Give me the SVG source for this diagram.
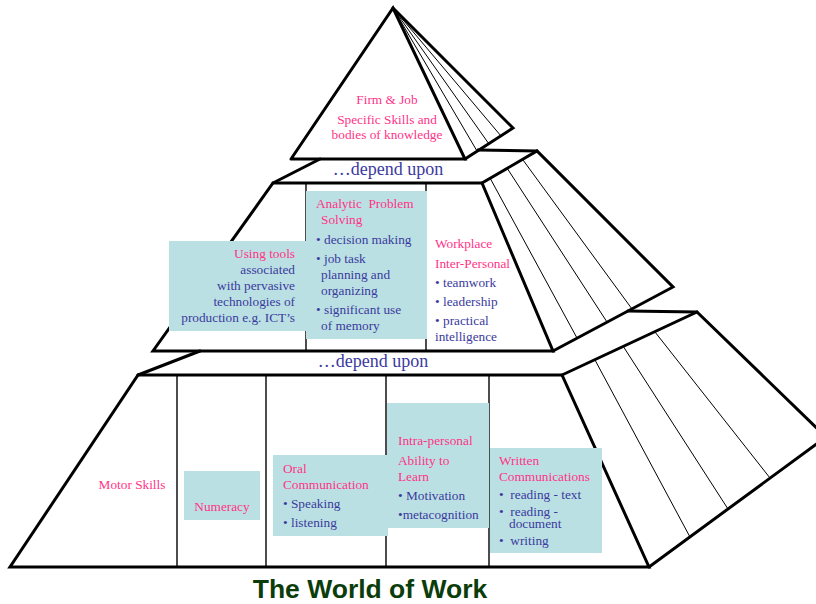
<svg xmlns="http://www.w3.org/2000/svg" width="816" height="604" viewBox="0 0 816 604">
  <style>
    .bold { fill: none; stroke: #000; stroke-width: 3; stroke-linejoin: miter; stroke-linecap: round; }
    .thin { fill: none; stroke: #000; stroke-width: 1; }
    .div { fill: none; stroke: #000; stroke-width: 1.4; }
    .box { fill: #bbe0e3; stroke: none; }
    text { font-family: "Liberation Serif", "Times New Roman", serif; font-size: 13.3px; }
    .pk { fill: #ff3388; }
    .bl { fill: #3a3a9e; }
    .dep { font-size: 18px; fill: #3a3a9e; text-anchor: middle; }
    .title { font-family: "Liberation Sans", Arial, sans-serif; font-weight: bold; font-size: 26.5px; fill: #0b3d0b; text-anchor: middle; }
  </style>

  <!-- pyramid outline: three tiers with side faces -->
  <g id="pyramid">
    <!-- top tier -->
    <polyline class="bold" points="291,159 393,8 465,159 291,159"/>
    <polyline class="bold" points="393,8 513,128 465,159"/>
    <line class="thin" x1="393" y1="8" x2="477" y2="151"/>
    <line class="thin" x1="393" y1="8" x2="489" y2="144"/>
    <line class="thin" x1="393" y1="8" x2="501" y2="136"/>

    <!-- band between top and middle tiers -->
    <line class="bold" x1="320" y1="159" x2="273" y2="183"/>
    <line class="bold" x1="478" y1="150" x2="537" y2="151"/>

    <!-- middle tier front -->
    <polygon class="bold" points="273,183 482,183 553,351 153,351"/>
    <line class="div" x1="306" y1="183" x2="306" y2="351"/>
    <line class="div" x1="426" y1="183" x2="426" y2="351"/>
    <!-- middle tier side -->
    <polyline class="bold" points="482,183 537,151 673,287 553,351"/>
    <line class="thin" x1="490" y1="178" x2="577" y2="338"/>
    <line class="thin" x1="507" y1="168" x2="607" y2="322"/>
    <line class="thin" x1="523" y1="160" x2="632" y2="309"/>

    <!-- band between middle and bottom tiers -->
    <line class="bold" x1="200" y1="351" x2="138" y2="375"/>
    <line class="bold" x1="628" y1="311" x2="697" y2="312"/>

    <!-- bottom tier front -->
    <polygon class="bold" points="138,375 562,375 649,567 10,567"/>
    <line class="div" x1="177" y1="375" x2="177" y2="567"/>
    <line class="div" x1="266" y1="375" x2="266" y2="567"/>
    <line class="div" x1="386" y1="375" x2="386" y2="567"/>
    <line class="div" x1="489" y1="375" x2="489" y2="567"/>
    <!-- bottom tier side -->
    <polyline class="bold" points="562,375 697,312 826,437 649,567"/>
    <line class="thin" x1="595" y1="360" x2="690" y2="537"/>
    <line class="thin" x1="623" y1="346" x2="728" y2="509"/>
    <line class="thin" x1="655" y1="332" x2="770" y2="478"/>
  </g>

  <!-- top tier label -->
  <g id="firm-job">
    <text class="pk" x="387" y="104" text-anchor="middle">Firm &amp; Job</text>
    <text class="pk" x="387" y="124" text-anchor="middle">Specific Skills and</text>
    <text class="pk" x="387" y="139" text-anchor="middle">bodies of knowledge</text>
  </g>

  <g id="depend-upper"><text class="dep" x="388" y="175">…depend upon</text></g>
  <g id="depend-lower"><text class="dep" x="373" y="367">…depend upon</text></g>

  <!-- middle tier nodes -->
  <g id="using-tools">
    <rect class="box" x="169" y="241" width="137" height="90"/>
    <g text-anchor="end">
      <text class="pk" x="295" y="258">Using tools</text>
      <text class="bl" x="295" y="274">associated</text>
      <text class="bl" x="295" y="290">with pervasive</text>
      <text class="bl" x="295" y="306">technologies of</text>
      <text class="bl" x="295" y="322">production e.g. ICT’s</text>
    </g>
  </g>

  <g id="analytic">
    <rect class="box" x="306" y="191" width="121" height="148"/>
    <text class="pk" x="316" y="208" xml:space="preserve">Analytic  Problem</text>
    <text class="pk" x="321" y="224">Solving</text>
    <text class="bl" x="316" y="244">• decision making</text>
    <text class="bl" x="316" y="263">• job task</text>
    <text class="bl" x="321" y="279">planning and</text>
    <text class="bl" x="321" y="295">organizing</text>
    <text class="bl" x="316" y="314">• significant use</text>
    <text class="bl" x="321" y="330">of memory</text>
  </g>

  <g id="workplace">
    <text class="pk" x="435" y="248">Workplace</text>
    <text class="pk" x="435" y="268">Inter-Personal</text>
    <text class="bl" x="435" y="287">• teamwork</text>
    <text class="bl" x="435" y="306">• leadership</text>
    <text class="bl" x="435" y="325">• practical</text>
    <text class="bl" x="435" y="341">intelligence</text>
  </g>

  <!-- bottom tier nodes -->
  <g id="motor-skills">
    <text class="pk" x="132" y="489" text-anchor="middle">Motor Skills</text>
  </g>

  <g id="numeracy">
    <rect class="box" x="184" y="471" width="76" height="49"/>
    <text class="pk" x="222" y="511" text-anchor="middle">Numeracy</text>
  </g>

  <g id="oral">
    <rect class="box" x="273" y="455" width="115" height="81"/>
    <text class="pk" x="283" y="473">Oral</text>
    <text class="pk" x="283" y="489">Communication</text>
    <text class="bl" x="283" y="508">• Speaking</text>
    <text class="bl" x="283" y="527">• listening</text>
  </g>

  <g id="intra-personal">
    <rect class="box" x="387" y="403" width="102" height="125"/>
    <text class="pk" x="398" y="445">Intra-personal</text>
    <text class="pk" x="398" y="465">Ability to</text>
    <text class="pk" x="398" y="481">Learn</text>
    <text class="bl" x="398" y="500">• Motivation</text>
    <text class="bl" x="398" y="519">•metacognition</text>
  </g>

  <g id="written">
    <rect class="box" x="490" y="448" width="112" height="105"/>
    <text class="pk" x="499" y="465">Written</text>
    <text class="pk" x="499" y="481">Communications</text>
    <text class="bl" x="499" y="499" xml:space="preserve">•  reading - text</text>
    <text class="bl" x="499" y="516" xml:space="preserve">•  reading -</text>
    <text class="bl" x="509" y="528">document</text>
    <text class="bl" x="499" y="545" xml:space="preserve">•  writing</text>
  </g>

  <g id="title"><text class="title" x="370" y="598">The World of Work</text></g>
</svg>
